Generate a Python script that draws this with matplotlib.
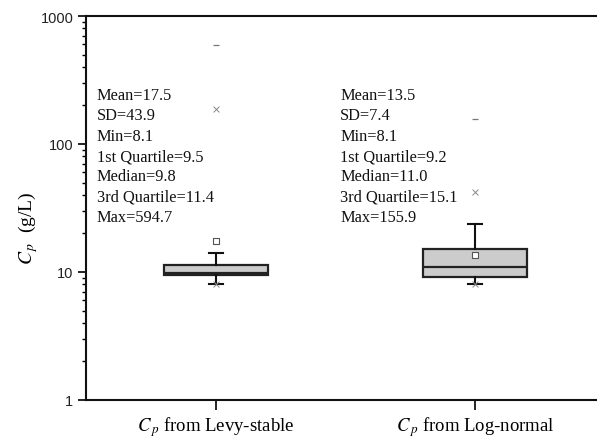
import matplotlib
matplotlib.use("agg")
import matplotlib.pyplot as plt
from matplotlib.ticker import LogLocator, NullFormatter, FixedLocator

# Summary statistics of Cp (g/L) for the two fitted distributions
labels = [r"$C_{\,p}$ from Levy-stable", r"$C_{\,p}$ from Log-normal"]
means = [17.5, 13.5]
sds = [43.9, 7.4]
mins = [8.1, 8.1]
q1s = [9.5, 9.2]
medians = [9.8, 11.0]
q3s = [11.4, 15.1]
maxs = [594.7, 155.9]
whis_hi = [14.2, 23.6]
p01 = [8.1, 8.1]
p99 = [187.0, 42.0]

positions = [1, 2]

plt.rcParams['font.family'] = ['Liberation Serif', 'DejaVu Serif']
plt.rcParams['mathtext.fontset'] = 'stix'

fig = plt.figure(figsize=(5.97, 4.39), dpi=100)
ax = fig.add_axes([86 / 597, 1 - 401 / 439, 1 - 86 / 597, (401 - 17) / 439])

stats = []
for i in range(2):
    stats.append(dict(med=medians[i], q1=q1s[i], q3=q3s[i],
                      whislo=mins[i], whishi=whis_hi[i],
                      mean=means[i], fliers=[]))

ax.bxp(stats, positions=positions, widths=0.405, patch_artist=True,
       showmeans=False, showfliers=False,
       boxprops=dict(facecolor='#cccccc', edgecolor='#222222', linewidth=1.6),
       medianprops=dict(color='#222222', linewidth=1.6),
       whiskerprops=dict(color='#111111', linewidth=1.5),
       capprops=dict(color='#111111', linewidth=1.5),
       capwidths=0.055)

# mean, 1%/99% and min/max markers
ax.scatter(positions, means, marker='s', s=14, facecolors='white',
           edgecolors='#555555', linewidths=0.8, zorder=4)
ax.scatter(positions, p99, marker='x', s=18, color='#888888',
           linewidths=0.7, zorder=4)
ax.scatter(positions, p01, marker='x', s=18, color='#888888',
           linewidths=0.7, zorder=4)
ax.scatter(positions, maxs, marker='_', s=18, color='#777777',
           linewidths=0.9, zorder=4)

# statistics text
text_x = [0.54, 1.479]
for i in range(2):
    lines = [f"Mean={means[i]:.1f}", f"SD={sds[i]:.1f}", f"Min={mins[i]:.1f}",
             f"1st Quartile={q1s[i]:.1f}", f"Median={medians[i]:.1f}",
             f"3rd Quartile={q3s[i]:.1f}", f"Max={maxs[i]:.1f}"]
    ax.text(text_x[i], 0.815, "\n".join(lines), transform=ax.get_xaxis_transform(),
            fontsize=11.8, va='top', ha='left', linespacing=1.36, color='#111111')

ax.set_yscale('log')
ax.set_ylim(1, 1000)
ax.set_xlim(0.498, 2.471)
ax.yaxis.set_major_locator(FixedLocator([1, 10, 100, 1000]))
ax.set_yticklabels(['1', '10', '100', '1000'], family='Liberation Sans',
                   fontsize=10.5, color='#222222')
ax.yaxis.set_minor_locator(LogLocator(base=10, subs=range(2, 10)))
ax.yaxis.set_minor_formatter(NullFormatter())

ax.set_xticks(positions)
ax.set_xticklabels(labels, fontsize=13.5)

for side in ['right']:
    ax.spines[side].set_visible(False)
for side in ['left', 'top', 'bottom']:
    ax.spines[side].set_linewidth(1.5)
    ax.spines[side].set_color('#111111')

ax.tick_params(axis='y', which='major', direction='out', length=6, width=1.2,
               pad=3)
ax.tick_params(axis='y', which='minor', direction='out', length=3, width=1.0)
ax.tick_params(axis='x', which='major', direction='out', length=7, width=1.2,
               pad=3)

ax.set_ylabel(r"$C_{\,p}$  (g/L)", fontsize=14)
ax.yaxis.set_label_coords(-0.09, 0.45)

fig.savefig("out.png", dpi=100)
